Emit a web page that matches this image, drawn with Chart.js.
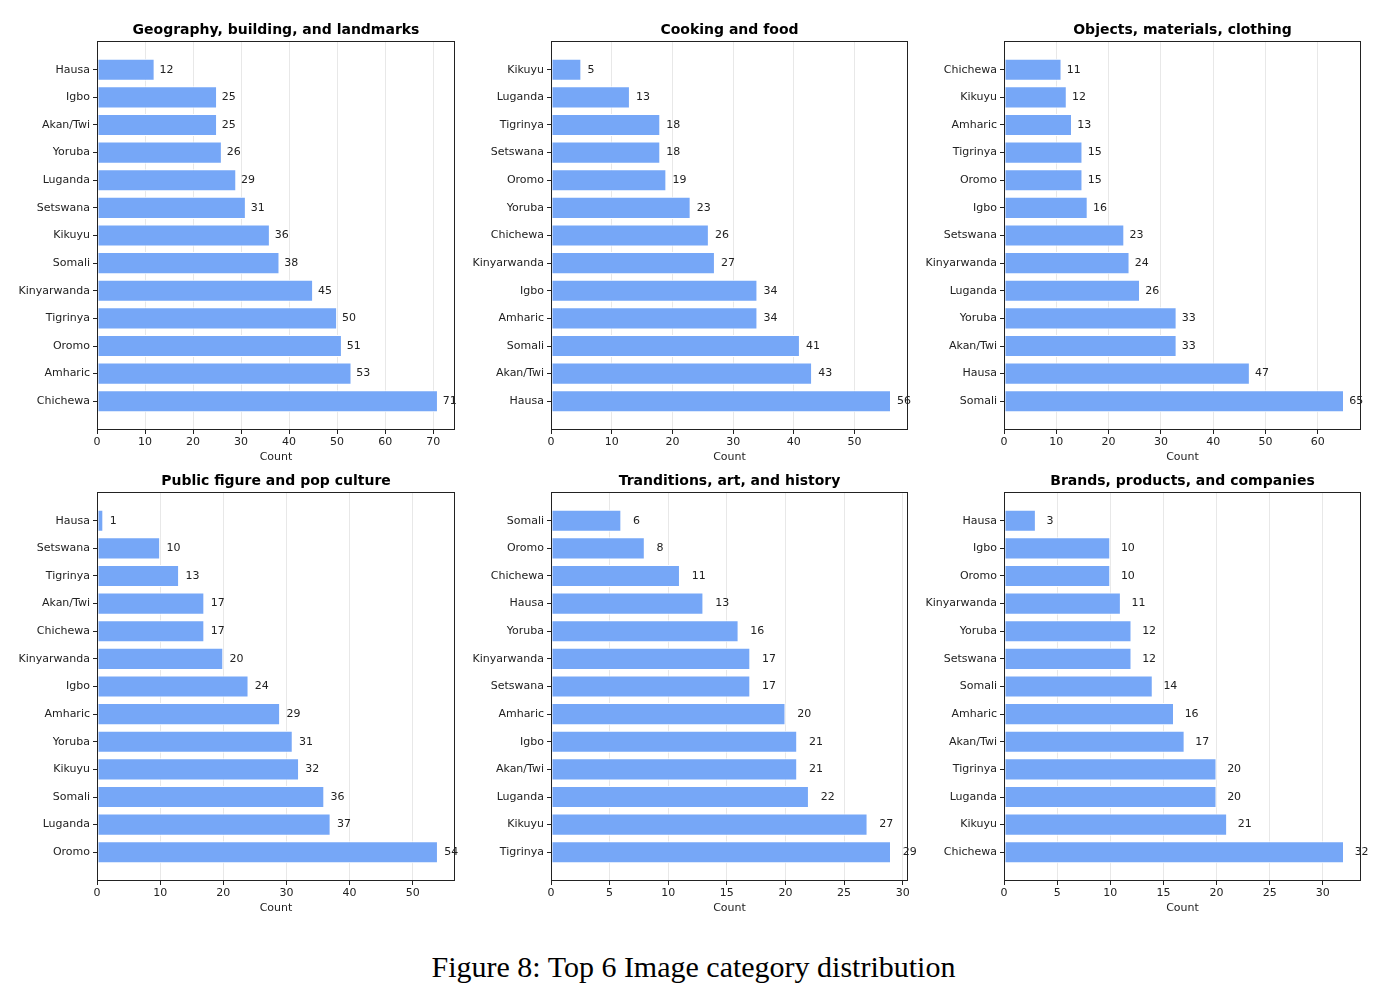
<!DOCTYPE html>
<html>
<head>
<meta charset="utf-8">
<script src="https://cdn.jsdelivr.net/npm/chart.js@4.4.1/dist/chart.umd.min.js"></script>
<style>
  body { margin: 0; background: #fff; width: 1387px; height: 1000px; position: relative; overflow: hidden; }
  canvas { position: absolute; }
  #caption { position: absolute; left: 0; width: 1387px; top: 952px; text-align: center;
    font-family: 'Liberation Serif', 'DejaVu Serif', serif; font-size: 30px; line-height: 1; color: #000; }
</style>
</head>
<body>
<div id="caption">Figure 8: Top 6 Image category distribution</div>
<script>
// one pair of arrays per panel, top bar first
const geoLangs = ['Hausa', 'Igbo', 'Akan/Twi', 'Yoruba', 'Luganda', 'Setswana', 'Kikuyu', 'Somali', 'Kinyarwanda', 'Tigrinya', 'Oromo', 'Amharic', 'Chichewa'];
const geoCounts = [12, 25, 25, 26, 29, 31, 36, 38, 45, 50, 51, 53, 71];

const foodLangs = ['Kikuyu', 'Luganda', 'Tigrinya', 'Setswana', 'Oromo', 'Yoruba', 'Chichewa', 'Kinyarwanda', 'Igbo', 'Amharic', 'Somali', 'Akan/Twi', 'Hausa'];
const foodCounts = [5, 13, 18, 18, 19, 23, 26, 27, 34, 34, 41, 43, 56];

const objLangs = ['Chichewa', 'Kikuyu', 'Amharic', 'Tigrinya', 'Oromo', 'Igbo', 'Setswana', 'Kinyarwanda', 'Luganda', 'Yoruba', 'Akan/Twi', 'Hausa', 'Somali'];
const objCounts = [11, 12, 13, 15, 15, 16, 23, 24, 26, 33, 33, 47, 65];

const popLangs = ['Hausa', 'Setswana', 'Tigrinya', 'Akan/Twi', 'Chichewa', 'Kinyarwanda', 'Igbo', 'Amharic', 'Yoruba', 'Kikuyu', 'Somali', 'Luganda', 'Oromo'];
const popCounts = [1, 10, 13, 17, 17, 20, 24, 29, 31, 32, 36, 37, 54];

const tradLangs = ['Somali', 'Oromo', 'Chichewa', 'Hausa', 'Yoruba', 'Kinyarwanda', 'Setswana', 'Amharic', 'Igbo', 'Akan/Twi', 'Luganda', 'Kikuyu', 'Tigrinya'];
const tradCounts = [6, 8, 11, 13, 16, 17, 17, 20, 21, 21, 22, 27, 29];

const brandLangs = ['Hausa', 'Igbo', 'Oromo', 'Kinyarwanda', 'Yoruba', 'Setswana', 'Somali', 'Amharic', 'Akan/Twi', 'Tigrinya', 'Luganda', 'Kikuyu', 'Chichewa'];
const brandCounts = [3, 10, 10, 11, 12, 12, 14, 16, 17, 20, 20, 21, 32];

const titles = [
  'Geography, building, and landmarks', 'Cooking and food', 'Objects, materials, clothing',
  'Public figure and pop culture', 'Tranditions, art, and history', 'Brands, products, and companies',
];
const tickSteps = [10, 10, 10, 10, 5, 5];

const panels = [
  [geoLangs, geoCounts], [foodLangs, foodCounts], [objLangs, objCounts],
  [popLangs, popCounts], [tradLangs, tradCounts], [brandLangs, brandCounts],
];

// plot-area edges in page pixels
const plotLeft = [97, 551, 1004];
const plotRight = [455, 908, 1361];
const plotTop = [41, 492];
const plotBottom = [430, 881];
const Y_AXIS_W = 97, TITLE_H = 30, X_AXIS_H = 34, RIGHT_PAD = 20;

Chart.defaults.font.family = '"DejaVu Sans", sans-serif';
Chart.defaults.font.size = 11;
Chart.defaults.color = '#222';

const valueLabels = {
  id: 'valueLabels',
  afterDatasetsDraw(chart) {
    const { ctx, scales: { x, y } } = chart;
    ctx.save();
    ctx.font = '11px "DejaVu Sans"';
    ctx.fillStyle = '#222';
    ctx.textBaseline = 'middle';
    chart.data.datasets[0].data.forEach(p => {
      ctx.fillText(String(p.x), x.getPixelForValue(p.x + 1), y.getPixelForValue(p.y));
    });
    ctx.restore();
  },
};

// spines on all four sides plus the panel title centred over the plot
const frame = {
  id: 'frame',
  afterDraw(chart, args, opts) {
    const { ctx, chartArea: a } = chart;
    ctx.save();
    ctx.strokeStyle = '#222';
    ctx.lineWidth = 1;
    const l = Math.round(a.left) + 0.5, t = Math.round(a.top) + 0.5;
    const r = Math.round(a.right) - 0.5, b = Math.round(a.bottom) - 0.5;
    ctx.strokeRect(l, t, r - l, b - t);
    ctx.font = 'bold 14px "DejaVu Sans"';
    ctx.fillStyle = '#000';
    ctx.textAlign = 'center';
    ctx.textBaseline = 'middle';
    ctx.fillText(opts.text, (a.left + a.right) / 2, a.top - 11);
    ctx.restore();
  },
};

panels.forEach(([langs, counts], i) => {
  const col = i % 3, row = Math.floor(i / 3);
  const left = plotLeft[col] - Y_AXIS_W;
  const top = plotTop[row] - TITLE_H;
  const width = plotRight[col] + RIGHT_PAD - left;
  const height = plotBottom[row] + X_AXIS_H - top;

  const canvas = document.createElement('canvas');
  canvas.width = width;
  canvas.height = height;
  canvas.style.left = left + 'px';
  canvas.style.top = top + 'px';
  canvas.style.width = width + 'px';
  canvas.style.height = height + 'px';
  document.body.appendChild(canvas);

  const n = langs.length;
  const xMax = Math.max(...counts) * 1.05;

  new Chart(canvas, {
    type: 'bar',
    data: {
      datasets: [{
        data: counts.map((v, k) => ({ x: v, y: k })),
        backgroundColor: 'rgb(118,167,247)',
        borderColor: '#fff',
        borderWidth: 1,
        borderSkipped: false,
        categoryPercentage: 1,
        barPercentage: 0.8,
      }],
    },
    options: {
      indexAxis: 'y',
      responsive: false,
      animation: false,
      layout: { padding: { left: 0, top: TITLE_H, right: RIGHT_PAD, bottom: 0 } },
      scales: {
        x: {
          type: 'linear',
          min: 0,
          max: xMax,
          border: { display: false },
          grid: { color: 'rgba(0,0,0,0.09)', tickColor: '#222', tickLength: 4 },
          ticks: { stepSize: tickSteps[i], includeBounds: false, padding: 2, color: '#222' },
          title: { display: true, text: 'Count', padding: { top: 0, bottom: 0 }, color: '#222' },
          afterFit: s => { s.height = X_AXIS_H; },
        },
        y: {
          type: 'linear',
          reverse: true,
          offset: false,
          min: -1.04,
          max: n - 1 + 1.04,
          border: { display: false },
          grid: { offset: false, drawOnChartArea: false, tickColor: '#222', tickLength: 4 },
          afterBuildTicks: s => { s.ticks = langs.map((_, k) => ({ value: k })); },
          ticks: { padding: 3, color: '#222', callback: v => langs[v] },
          afterFit: s => { s.width = Y_AXIS_W; },
        },
      },
      plugins: {
        legend: { display: false },
        tooltip: { enabled: false },
        title: { display: false },
        frame: { text: titles[i] },
      },
    },
    plugins: [valueLabels, frame],
  });
});
</script>
</body>
</html>
